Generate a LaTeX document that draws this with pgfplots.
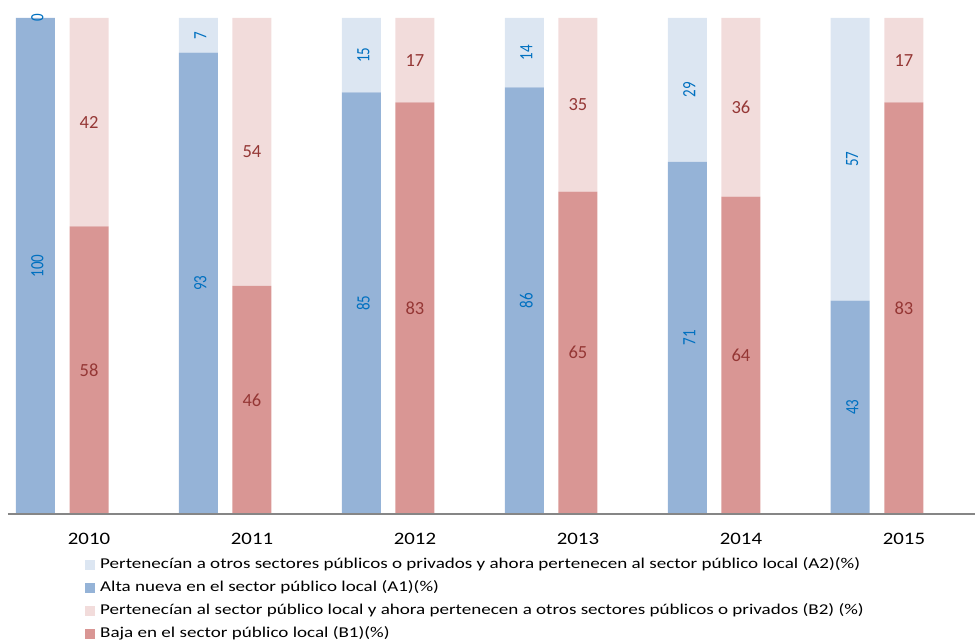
\documentclass[border=0pt]{standalone}
\usepackage{fontspec}
\setmainfont{Carlito}
\newfontfamily\legfont{Carlito}[FakeStretch=1.27]
\newfontfamily\tickfont{Carlito}[FakeStretch=1.19]
\usepackage{pgfplots}
\usepackage{pgfplotstable}
\pgfplotsset{compat=1.18}
\definecolor{aone}{HTML}{95B3D7}
\definecolor{atwo}{HTML}{DCE6F2}
\definecolor{bone}{HTML}{D99694}
\definecolor{btwo}{HTML}{F2DCDB}
\definecolor{labblue}{HTML}{0070C0}
\definecolor{labred}{HTML}{953735}
\definecolor{axisgray}{HTML}{868686}

\pgfplotstableread{
x A1 A2 B1 B2
0 100 0 58 42
1 93 7 46 54
2 85 15 83 17
3 86 14 65 35
4 71 29 64 36
5 43 57 83 17
}\data

\pgfplotsset{base/.style={scale only axis, width=967pt, height=496pt,
  xmin=-0.497, xmax=5.436, ymin=0, ymax=100, clip=false}}

\begin{document}
\begin{tikzpicture}
% A stacks
\begin{axis}[base, hide axis, ybar stacked, bar width=39pt, bar shift=-53.7pt]
\addplot[fill=aone, draw=none] table[x=x, y=A1]{\data};
\addplot[fill=atwo, draw=none] table[x=x, y=A2]{\data};
\end{axis}
% B stacks
\begin{axis}[base, hide axis, ybar stacked, bar width=39pt, bar shift=0pt]
\addplot[fill=bone, draw=none] table[x=x, y=B1]{\data};
\addplot[fill=btwo, draw=none] table[x=x, y=B2]{\data};
\end{axis}
% labels, axis line, legend
\begin{axis}[base,
  axis x line*=bottom, axis y line=none,
  x axis line style={-, draw=axisgray, line width=2pt},
  xtick={0,1,2,3,4,5}, xticklabels={2010,2011,2012,2013,2014,2015},
  major tick length=0pt,
  xticklabel style={font=\tickfont\fontsize{17.5}{17.5}\selectfont, anchor=center, yshift=-25pt},
  legend image code/.code={\path[#1, draw=none] (0pt,-5pt) rectangle (10pt,5pt);},
  legend style={at={(axis description cs:0.0796,-0.087)}, anchor=north west,
    draw=none, fill=none, inner sep=0pt, row sep=8pt, column sep=5pt,
    font=\legfont\fontsize{15}{15}\selectfont,
    nodes={inner sep=0pt, text height=11pt, text depth=4pt}},
  legend cell align=left,
]
\coordinate (sw) at (rel axis cs:0,0);
\coordinate (ne) at (rel axis cs:1,1);
\addlegendimage{fill=atwo}
\addlegendentry{Pertenecían a otros sectores públicos o privados y ahora pertenecen al sector público local (A2)(\%)}
\addlegendimage{fill=aone}
\addlegendentry{Alta nueva en el sector público local (A1)(\%)}
\addlegendimage{fill=btwo}
\addlegendentry{Pertenecían al sector público local y ahora pertenecen a otros sectores públicos o privados (B2) (\%)}
\addlegendimage{fill=bone}
\addlegendentry{Baja en el sector público local (B1)(\%)}

\addplot[draw=none, forget plot, nodes near coords, point meta=explicit symbolic,
  every node near coord/.append style={anchor=center, transform shape, rotate=90, yscale=1.25, text=labblue,
    font=\fontsize{15}{15}\selectfont}]
  table[x expr=\thisrow{x}-0.317, y expr=\thisrow{A1}/2, meta=A1]{\data};
\addplot[draw=none, forget plot, nodes near coords, point meta=explicit symbolic,
  every node near coord/.append style={anchor=center, transform shape, rotate=90, yscale=1.25, text=labblue,
    font=\fontsize{15}{15}\selectfont}]
  table[x expr=\thisrow{x}-0.317, y expr=\thisrow{A1}+\thisrow{A2}/2, meta=A2]{\data};
\addplot[draw=none, forget plot, nodes near coords, point meta=explicit symbolic,
  every node near coord/.append style={anchor=center, text=labred,
    font=\fontsize{18.5}{18.5}\selectfont}]
  table[x=x, y expr=\thisrow{B1}/2, meta=B1]{\data};
\addplot[draw=none, forget plot, nodes near coords, point meta=explicit symbolic,
  every node near coord/.append style={anchor=center, text=labred,
    font=\fontsize{18.5}{18.5}\selectfont}]
  table[x=x, y expr=\thisrow{B1}+\thisrow{B2}/2, meta=B2]{\data};
\end{axis}
\pgfresetboundingbox
\path ([shift={(-8pt,-128pt)}]sw) rectangle ([shift={(0pt,18pt)}]ne);
\end{tikzpicture}
\end{document}
